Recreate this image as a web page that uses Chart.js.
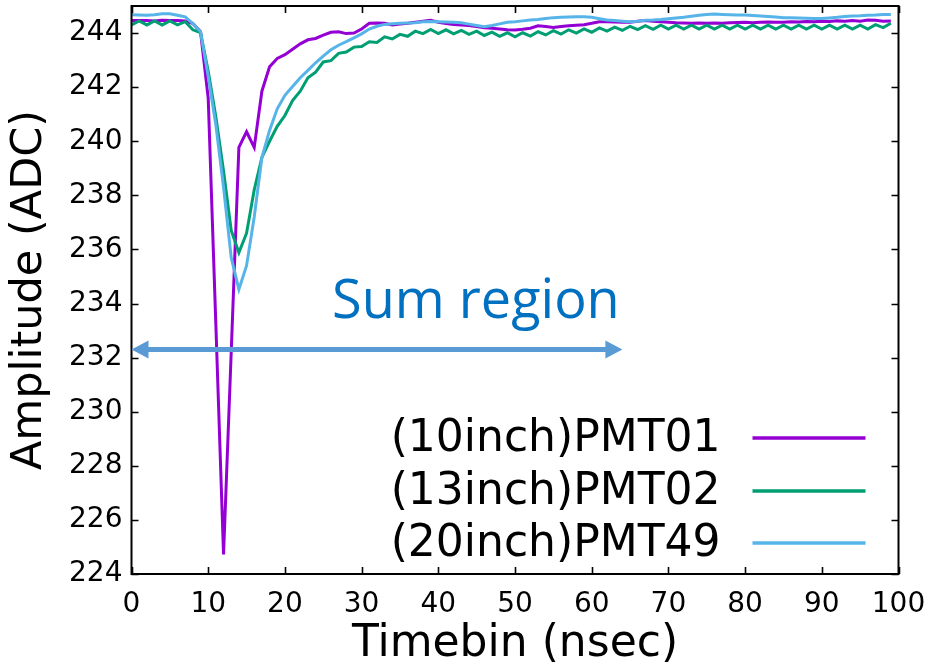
<!DOCTYPE html>
<html>
<head>
<meta charset="utf-8">
<script src="https://cdn.jsdelivr.net/npm/chart.js@4/dist/chart.umd.min.js"></script>
<style>
  html, body { margin: 0; padding: 0; background: #fff; }
  #wrap { width: 937px; height: 669px; }
</style>
</head>
<body>
<div id="wrap"><canvas id="c" width="937" height="669"></canvas></div>
<script>
// Time bins (nsec)
const timebins = [...Array(100).keys()];

// Waveform amplitude (ADC) per time bin
const pmt01 = [
  244.46, 244.46, 244.46, 244.45, 244.47, 244.46, 244.46, 244.45, 244.35, 244.05,
  241.6, 233.2, 224.72, 232.2, 239.77, 240.35, 239.77, 241.85, 242.75, 243.06,
  243.2, 243.4, 243.6, 243.75, 243.8, 243.92, 244.03, 244.05, 243.98, 244.0,
  244.15, 244.36, 244.37, 244.36, 244.3, 244.33, 244.36, 244.4, 244.44, 244.47,
  244.4, 244.35, 244.32, 244.3, 244.28, 244.24, 244.2, 244.18, 244.15, 244.12,
  244.11, 244.14, 244.18, 244.27, 244.24, 244.21, 244.24, 244.27, 244.29, 244.31,
  244.36, 244.42, 244.42, 244.41, 244.4, 244.4, 244.44, 244.46, 244.44, 244.42,
  244.4, 244.38, 244.37, 244.36, 244.37, 244.36, 244.37, 244.36, 244.38, 244.39,
  244.4, 244.38, 244.4, 244.41, 244.4, 244.4, 244.42, 244.41, 244.43, 244.42,
  244.44, 244.43, 244.45, 244.44, 244.46, 244.44, 244.48, 244.47, 244.44, 244.45
];
const pmt02 = [
  244.30, 244.45, 244.30, 244.45, 244.30, 244.45, 244.30, 244.42, 244.12, 244.02,
  242.6, 240.9, 238.9, 236.7, 235.88, 236.6, 238.2, 239.4, 240.0, 240.55,
  240.95, 241.5, 241.85, 242.35, 242.55, 242.93, 242.98, 243.25, 243.3, 243.48,
  243.5, 243.68, 243.65, 243.86, 243.78, 243.95, 243.88, 244.07, 243.98, 244.13,
  243.98, 244.12, 243.97, 244.10, 243.95, 244.07, 243.91, 244.03, 243.88, 244.01,
  243.86, 244.01, 243.89, 244.05, 243.93, 244.09, 243.96, 244.12, 244.0, 244.15,
  244.03, 244.19, 244.07, 244.22, 244.10, 244.25, 244.13, 244.27, 244.14, 244.29,
  244.15, 244.29, 244.15, 244.29, 244.15, 244.29, 244.15, 244.29, 244.15, 244.29,
  244.15, 244.29, 244.15, 244.29, 244.15, 244.29, 244.15, 244.29, 244.15, 244.29,
  244.15, 244.29, 244.15, 244.29, 244.15, 244.29, 244.15, 244.31, 244.2, 244.36
];
const pmt49 = [
  244.68, 244.67, 244.66, 244.68, 244.71, 244.71, 244.66, 244.6, 244.35, 244.05,
  242.4, 240.6, 238.3, 235.7, 234.52, 235.4, 237.2, 239.4, 240.4, 241.2,
  241.7, 242.02, 242.35, 242.62, 242.9, 243.15, 243.38, 243.55, 243.68, 243.82,
  243.97, 244.15, 244.25, 244.32, 244.34, 244.36, 244.37, 244.38, 244.42, 244.43,
  244.42, 244.41, 244.4, 244.38, 244.33, 244.28, 244.23, 244.28, 244.34, 244.4,
  244.42, 244.45, 244.48, 244.5, 244.54, 244.57, 244.58, 244.59, 244.6, 244.6,
  244.58, 244.53, 244.48, 244.46, 244.44, 244.42, 244.44, 244.47, 244.48, 244.5,
  244.53, 244.56, 244.58, 244.62, 244.66, 244.69, 244.7, 244.69, 244.68, 244.67,
  244.67, 244.65, 244.63, 244.61, 244.59, 244.57, 244.57, 244.56, 244.55, 244.54,
  244.54, 244.56, 244.58, 244.61, 244.63, 244.64, 244.66, 244.67, 244.69, 244.69
];

const seriesLabels = ['(10inch)PMT01', '(13inch)PMT02', '(20inch)PMT49'];
const seriesValues = [pmt01, pmt02, pmt49];
const seriesColors = ['#9400D3', '#009E73', '#56B4E9'];

// Sum-region marker, in data units
const sumRegionStart = 0;
const sumRegionEnd = 64;
const sumRegionLevel = 232.3;
const sumRegionText = 'Sum region';
const sumTextAt = { x: 44.9, y: 233.45 };

const AXIS_FONT = 'DejaVu Sans';

// Box frame with inward, mirrored tick marks
const frameTicks = {
  id: 'frameTicks',
  afterDatasetsDraw(chart) {
    const { ctx, chartArea: a, scales: { x, y } } = chart;
    const L = 7;
    ctx.save();
    ctx.strokeStyle = '#000';
    ctx.lineWidth = 1.6;
    ctx.beginPath();
    x.ticks.forEach(t => {
      const p = Math.round(x.getPixelForValue(t.value)) + 0.5;
      ctx.moveTo(p, a.bottom); ctx.lineTo(p, a.bottom - L);
      ctx.moveTo(p, a.top); ctx.lineTo(p, a.top + L);
    });
    y.ticks.forEach(t => {
      const p = Math.round(y.getPixelForValue(t.value)) + 0.5;
      ctx.moveTo(a.left, p); ctx.lineTo(a.left + L, p);
      ctx.moveTo(a.right, p); ctx.lineTo(a.right - L, p);
    });
    ctx.stroke();
    ctx.lineWidth = 2;
    ctx.strokeRect(a.left, a.top, a.right - a.left, a.bottom - a.top);
    ctx.restore();
  }
};

// Double-headed arrow with its caption
const sumRegionMarker = {
  id: 'sumRegionMarker',
  afterDatasetsDraw(chart) {
    const { ctx, scales: { x, y } } = chart;
    const x0 = x.getPixelForValue(sumRegionStart);
    const x1 = x.getPixelForValue(sumRegionEnd);
    const py = y.getPixelForValue(sumRegionLevel);
    const head = 17, half = 9;
    ctx.save();
    ctx.strokeStyle = '#5B9BD5';
    ctx.fillStyle = '#5B9BD5';
    ctx.lineWidth = 5;
    ctx.beginPath();
    ctx.moveTo(x0 + head - 2, py); ctx.lineTo(x1 - head + 2, py);
    ctx.stroke();
    ctx.beginPath();
    ctx.moveTo(x0, py); ctx.lineTo(x0 + head, py - half); ctx.lineTo(x0 + head, py + half); ctx.closePath();
    ctx.moveTo(x1, py); ctx.lineTo(x1 - head, py - half); ctx.lineTo(x1 - head, py + half); ctx.closePath();
    ctx.fill();
    ctx.fillStyle = '#0070C0';
    ctx.font = '54px "Open Sans"';
    ctx.textAlign = 'center';
    ctx.textBaseline = 'alphabetic';
    ctx.fillText(sumRegionText, x.getPixelForValue(sumTextAt.x), y.getPixelForValue(sumTextAt.y));
    ctx.restore();
  }
};

// Key: label text on the left, line sample on the right
const keyBox = {
  id: 'keyBox',
  afterDatasetsDraw(chart) {
    const { ctx, chartArea: a } = chart;
    const rowsFromBottom = [136, 83, 31];
    ctx.save();
    ctx.font = '44px "' + AXIS_FONT + '"';
    ctx.textAlign = 'right';
    ctx.textBaseline = 'middle';
    chart.data.datasets.forEach((ds, i) => {
      const ry = a.bottom - rowsFromBottom[i];
      ctx.fillStyle = '#000';
      ctx.fillText(ds.label, a.right - 178, ry + 2);
      ctx.strokeStyle = ds.borderColor;
      ctx.lineWidth = 3.5;
      ctx.beginPath();
      ctx.moveTo(a.right - 146, ry); ctx.lineTo(a.right - 33, ry);
      ctx.stroke();
    });
    ctx.restore();
  }
};

new Chart(document.getElementById('c'), {
  type: 'line',
  data: {
    datasets: seriesLabels.map((label, i) => ({
      label,
      data: timebins.map((t, j) => ({ x: t, y: seriesValues[i][j] })),
      borderColor: seriesColors[i],
      borderWidth: 3,
      pointRadius: 0,
      tension: 0,
      fill: false,
      order: 3 - i
    }))
  },
  options: {
    responsive: false,
    devicePixelRatio: 1,
    animation: false,
    events: [],
    layout: { padding: { top: 6, right: 38.5, left: 0, bottom: 0 } },
    plugins: { legend: { display: false }, tooltip: { enabled: false } },
    scales: {
      x: {
        type: 'linear',
        min: 0, max: 100,
        grid: { display: false, drawTicks: false },
        border: { display: false },
        ticks: { stepSize: 10, padding: 14, color: '#000', font: { family: AXIS_FONT, size: 28 }, maxRotation: 0 },
        title: { display: true, text: 'Timebin (nsec)', color: '#000', font: { family: AXIS_FONT, size: 44, lineHeight: 1 }, padding: { top: 0, bottom: 2 } },
        afterFit(s) { s.height = 95; s.paddingLeft = 0; s.paddingRight = 0; }
      },
      y: {
        min: 224, max: 245,
        grid: { display: false, drawTicks: false },
        border: { display: false },
        ticks: { stepSize: 2, includeBounds: false, padding: 9, color: '#000', font: { family: AXIS_FONT, size: 28 } },
        title: { display: true, text: 'Amplitude (ADC)', color: '#000', font: { family: AXIS_FONT, size: 43, lineHeight: 1 }, padding: { top: 8, bottom: 0 } },
        afterFit(s) { s.width = 131.5; s.paddingTop = 0; s.paddingBottom = 0; }
      }
    }
  },
  plugins: [frameTicks, sumRegionMarker, keyBox]
});
</script>
</body>
</html>
